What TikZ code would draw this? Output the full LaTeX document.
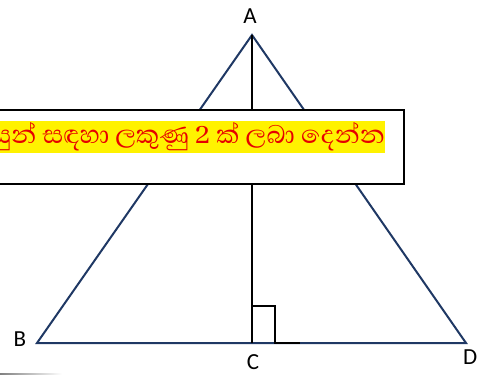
\documentclass[tikz,border=0pt]{standalone}
\usepackage{fontspec}
\setmainfont{Carlito}
\newfontfamily\sinhalafont[Script=Sinhala]{Abhaya Libre}
\definecolor{navy}{RGB}{31,56,100}
\definecolor{hlred}{RGB}{230,0,0}
\begin{document}
\begin{tikzpicture}[x=1pt,y=-1pt,
  tri/.style={draw=navy,line width=2pt,line join=miter},
  blk/.style={draw=black,line width=1.5pt},
  lbl/.style={font=\fontsize{23}{27}\selectfont,inner sep=0pt}]
\useasboundingbox (0,0) rectangle (477,375);
\coordinate (A) at (252,35);
\coordinate (B) at (37,343);
\coordinate (D) at (466,343);
\coordinate (C) at (252,343);
\coordinate (R1) at (252,306);
\coordinate (R2) at (275,306);
\coordinate (R3) at (275,343);
\coordinate (R4) at (300,343);
\draw[tri] (A) -- (B) -- (D) -- cycle;
\draw[blk] (A) -- (C);
\draw[blk] (R1) -- (R2) -- (R3) -- (R4);
\node[lbl] (lA) at (250,16) {A};
\node[lbl] (lB) at (20,339) {B};
\node[lbl] (lC) at (253,362) {C};
\node[lbl,anchor=west] (lD) at (463,357) {D};
\draw[black,line width=1.3pt,fill=white] (-20,110) rectangle (404,184);
\node[fill=yellow,text=hlred,anchor=east,inner xsep=0pt,inner ysep=0pt,minimum height=32pt,
  font=\sinhalafont\fontsize{32.5}{35}\selectfont] (txt) at (385,137) {යුන් සඳහා ලකුණු 2 ක් ලබා දෙන්න};
\shade[left color=gray,right color=white] (0,373) rectangle (62,375);
\end{tikzpicture}
\end{document}
